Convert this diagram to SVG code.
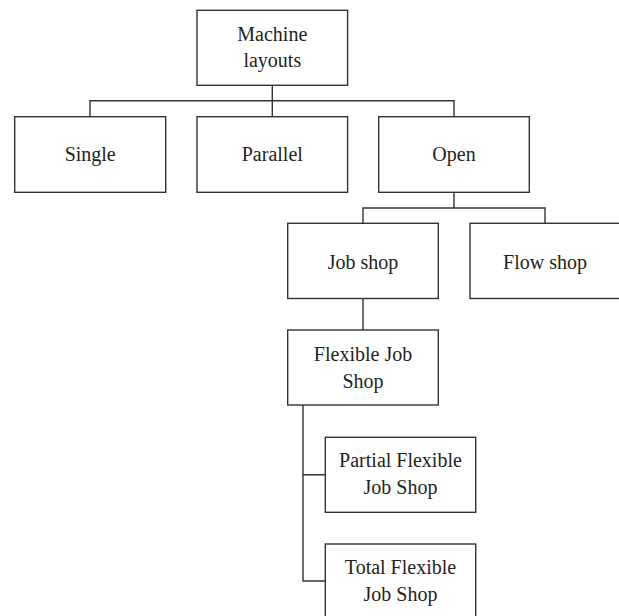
<svg xmlns="http://www.w3.org/2000/svg" width="619" height="616" viewBox="0 0 619 616">
<style>
.box{fill:#ffffff;stroke:#333333;stroke-width:1.4}
.ln{fill:none;stroke:#333333;stroke-width:1.4}
text{font-family:"Liberation Serif","Times New Roman",serif;font-size:20px;fill:#231f20;text-anchor:middle}
</style>
<rect width="619" height="616" fill="#ffffff"/>
<g id="connectors">
<path class="ln" d="M272.3,85.3 V100.7 M90,116.7 V100.7 H454 V116.7 M272.3,100.7 V116.7"/>
<path class="ln" d="M454,192.3 V208 M363,223.3 V208 H545 V223.3"/>
<path class="ln" d="M363,298.5 V330"/>
<path class="ln" d="M303,405 V581 H325.3 M303,474.7 H325.3"/>
</g>
<g id="machine-layouts">
<rect class="box" x="197" y="10.3" width="150.6" height="75"/>
<text x="272.3" y="40.5">Machine</text>
<text x="272.3" y="66.5">layouts</text>
</g>
<g id="single">
<rect class="box" x="14.7" y="116.7" width="151" height="75.6"/>
<text x="90.2" y="161">Single</text>
</g>
<g id="parallel">
<rect class="box" x="197" y="116.7" width="150.6" height="75.6"/>
<text x="272.3" y="161">Parallel</text>
</g>
<g id="open">
<rect class="box" x="378.7" y="116.7" width="150.6" height="75.6"/>
<text x="454" y="161">Open</text>
</g>
<g id="job-shop">
<rect class="box" x="287.7" y="223.3" width="150.6" height="75.2"/>
<text x="363" y="269">Job shop</text>
</g>
<g id="flow-shop">
<rect class="box" x="470" y="223.3" width="150.6" height="75.2"/>
<text x="545" y="269">Flow shop</text>
</g>
<g id="flexible-job-shop">
<rect class="box" x="287.7" y="330" width="150.6" height="75"/>
<text x="363" y="360.5">Flexible Job</text>
<text x="363" y="387.5">Shop</text>
</g>
<g id="partial-flexible-job-shop">
<rect class="box" x="325.3" y="437.3" width="150.4" height="75"/>
<text x="400.5" y="466.5">Partial Flexible</text>
<text x="400.5" y="493.5">Job Shop</text>
</g>
<g id="total-flexible-job-shop">
<rect class="box" x="325.3" y="544" width="150.4" height="75"/>
<text x="400.5" y="573.5">Total Flexible</text>
<text x="400.5" y="600.5">Job Shop</text>
</g>
</svg>
